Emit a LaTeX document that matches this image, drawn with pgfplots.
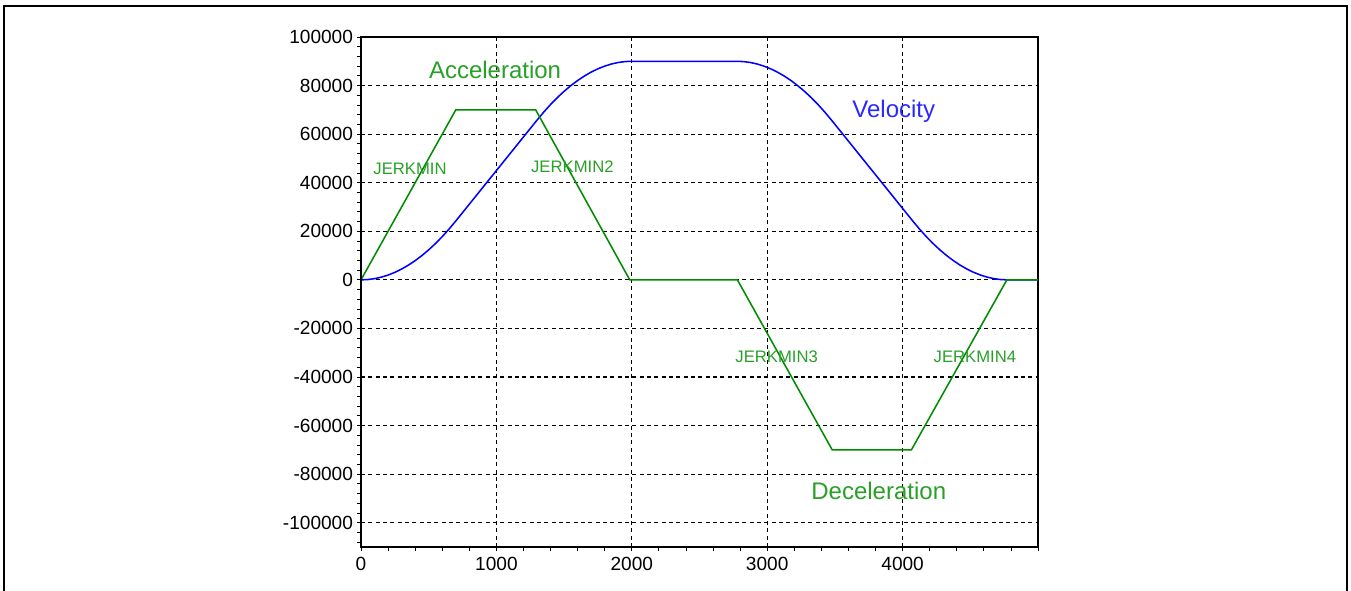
\documentclass[border=0pt]{standalone}
\usepackage{fontspec}
\setmainfont{Liberation Sans}
\usepackage{pgfplots}
\pgfplotsset{compat=1.18}
\definecolor{accgreen}{RGB}{0,140,0}
\definecolor{txtgreen}{RGB}{40,160,40}
\definecolor{velblue}{RGB}{0,0,255}
\definecolor{txtblue}{RGB}{40,40,255}
\begin{document}
\begin{tikzpicture}
\useasboundingbox (0,0) rectangle (1013.25pt,442.5pt);
\draw[line width=1.5pt] (3pt,-5pt) -- (3pt,438pt) -- (1010.25pt,438pt) -- (1010.25pt,-5pt);
\begin{axis}[
  at={(270.75pt,32.25pt)}, anchor=south west,
  scale only axis, width=507.75pt, height=382.5pt,
  xmin=0, xmax=5000, ymin=-110000, ymax=100000,
  xtick={0,1000,2000,3000,4000,5000},
  xticklabels={0,1000,2000,3000,4000,},
  ytick={-100000,-80000,-60000,-40000,-20000,0,20000,40000,60000,80000,100000},
  yticklabels={-100000,-80000,-60000,-40000,-20000,0,20000,40000,60000,80000,100000},
  minor xtick={200,400,...,4800},
  minor ytick={-108000,-104000,...,96000},
  scaled ticks=false,
  tick align=outside, xtick pos=left, ytick pos=left,
  major tick length=3pt, minor tick length=3pt,
  tick style={black, line width=0.6pt},
  grid=major,
  major grid style={black, line width=0.8pt, dash pattern=on 3pt off 2.5pt},
  axis line style={black, line width=0.8pt},
  tick label style={font=\fontsize{14.3}{14.3}\selectfont},
  xticklabel style={yshift=-1pt},
  yticklabel style={xshift=0.5pt},
  clip=false,
]
\addplot[velblue, line width=1.15pt] coordinates {
(0,0)(50,124)(100,495)(150,1113)(200,1978)(250,3091)(300,4451)(350,6058)(400,7912)(450,10014)(500,12363)(550,14959)(600,17802)(650,20893)(700,24231)(1300,65769)(1350,69107)(1400,72198)(1450,75041)(1500,77637)(1550,79986)(1600,82088)(1650,83942)(1700,85549)(1750,86909)(1800,88022)(1850,88887)(1900,89505)(1950,89876)(2000,90000)(2775,90000)(2825,89876)(2875,89505)(2925,88887)(2975,88022)(3025,86909)(3075,85549)(3125,83942)(3175,82088)(3225,79986)(3275,77637)(3325,75041)(3375,72198)(3425,69107)(3475,65769)(4075,24231)(4125,20893)(4175,17802)(4225,14959)(4275,12363)(4325,10014)(4375,7912)(4425,6058)(4475,4451)(4525,3091)(4575,1978)(4625,1113)(4675,495)(4725,124)(4775,0)(5000,0)
};
\addplot[accgreen, line width=1.15pt] coordinates {
(0,0)(700,70000)(1290,70000)(1985,0)(2780,0)(3480,-70000)(4065,-70000)(4770,0)(5000,0)
};
\draw[black, line width=1.6pt] (rel axis cs:0,1) -- (rel axis cs:0,0) -- (rel axis cs:1,0);
\node[txtgreen, font=\fontsize{18}{18}\selectfont] at (axis cs:990,86400) {Acceleration};
\node[txtblue, font=\fontsize{18}{18}\selectfont] at (axis cs:3935,69550) {Velocity};
\node[txtgreen, font=\fontsize{18}{18}\selectfont] at (axis cs:3824,-86830) {Deceleration};
\node[txtgreen, font=\fontsize{12.5}{12.5}\selectfont] at (axis cs:362,45680) {JERKMIN};
\node[txtgreen, font=\fontsize{12.5}{12.5}\selectfont] at (axis cs:1561,46500) {JERKMIN2};
\node[txtgreen, font=\fontsize{12.5}{12.5}\selectfont] at (axis cs:3070,-31690) {JERKMIN3};
\node[txtgreen, font=\fontsize{12.5}{12.5}\selectfont] at (axis cs:4534,-31690) {JERKMIN4};
\end{axis}
\end{tikzpicture}
\end{document}
